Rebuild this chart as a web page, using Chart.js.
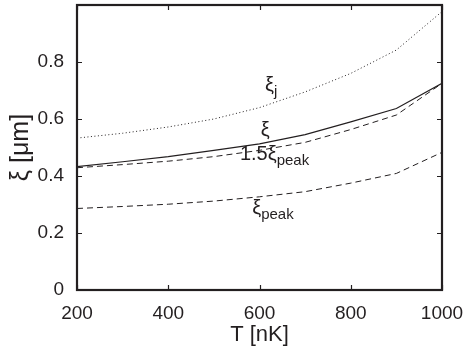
<!DOCTYPE html>
<html>
<head>
<meta charset="utf-8">
<script src="https://cdn.jsdelivr.net/npm/chart.js@4/dist/chart.umd.min.js"></script>
<style>
  body { margin: 0; background: #fff; }
  #wrap { width: 467px; height: 348px; }
</style>
</head>
<body>
<div id="wrap"><canvas id="xiChart"></canvas></div>
<script>
// temperatures in nK
const temps = [200, 300, 400, 500, 600, 700, 800, 900, 1000];
// correlation lengths in um
const xiJ = [0.533, 0.55, 0.572, 0.60, 0.64, 0.695, 0.76, 0.842, 0.977];
const xi = [0.433, 0.45, 0.468, 0.49, 0.513, 0.545, 0.59, 0.637, 0.725];
const xiPeak15 = [0.429, 0.44, 0.452, 0.468, 0.49, 0.518, 0.563, 0.614, 0.725];
const xiPeak = [0.286, 0.293, 0.301, 0.312, 0.327, 0.345, 0.375, 0.409, 0.483];

const xTicks = [200, 400, 600, 800, 1000];
const yTicks = [0, 0.2, 0.4, 0.6, 0.8];

// curve labels: [main, subscript, T, value]
const curveLabels = [
  ['\u03be', 'j', 612, 0.70],
  ['\u03be', '', 603, 0.54],
  ['1.5\u03be', 'peak', 557, 0.455],
  ['\u03be', 'peak', 584, 0.265]
];

const FONT = '"Liberation Sans", Arial, Helvetica, sans-serif';
const ink = '#231f20';

function toPoints(ys) {
  return temps.map((t, i) => ({ x: t, y: ys[i] }));
}

// box + inward tick marks + text labels on the curves
const framePlugin = {
  id: 'frame',
  afterDatasetsDraw(chart) {
    const ctx = chart.ctx;
    const a = chart.chartArea;
    const xs = chart.scales.x, ys = chart.scales.y;
    ctx.save();
    ctx.strokeStyle = ink;
    ctx.lineWidth = 1.2;
    ctx.beginPath();
    xTicks.forEach(t => {
      const px = Math.round(xs.getPixelForValue(t)) + 0.5;
      ctx.moveTo(px, a.bottom); ctx.lineTo(px, a.bottom - 5);
      ctx.moveTo(px, a.top); ctx.lineTo(px, a.top + 5);
    });
    yTicks.forEach(v => {
      const py = Math.round(ys.getPixelForValue(v)) + 0.5;
      ctx.moveTo(a.left, py); ctx.lineTo(a.left + 5, py);
      ctx.moveTo(a.right, py); ctx.lineTo(a.right - 5, py);
    });
    ctx.stroke();
    ctx.lineWidth = 2.2;
    ctx.strokeRect(a.left, a.top, a.right - a.left, a.bottom - a.top);

    ctx.fillStyle = ink;
    ctx.textBaseline = 'alphabetic';
    ctx.textAlign = 'left';
    curveLabels.forEach(([main, sub, t, v]) => {
      const px = xs.getPixelForValue(t);
      const py = ys.getPixelForValue(v);
      ctx.font = '20px ' + FONT;
      ctx.fillText(main, px, py);
      const w = ctx.measureText(main).width;
      if (sub) {
        ctx.font = '15px ' + FONT;
        ctx.fillText(sub, px + w, py + 5);
      }
    });
    ctx.restore();
  }
};

const lineStyle = (label, data, dash, width) => ({
  label: label,
  data: toPoints(data),
  borderColor: ink,
  borderWidth: width,
  borderDash: dash,
  pointRadius: 0,
  tension: 0,
  fill: false
});

new Chart(document.getElementById('xiChart').getContext('2d'), {
  type: 'line',
  data: {
    datasets: [
      lineStyle('xi_j', xiJ, [1, 2.5], 1),
      lineStyle('xi', xi, [], 1.2),
      lineStyle('1.5 xi_peak', xiPeak15, [6, 4], 1),
      lineStyle('xi_peak', xiPeak, [6, 4], 1)
    ]
  },
  options: {
    responsive: true,
    maintainAspectRatio: false,
    animation: false,
    layout: { padding: { top: 5, right: 25, left: 0, bottom: 0 } },
    plugins: { legend: { display: false }, tooltip: { enabled: false } },
    scales: {
      x: {
        type: 'linear',
        min: 200, max: 1000,
        grid: { display: false, drawTicks: false },
        border: { display: false },
        afterBuildTicks: s => { s.ticks = xTicks.map(v => ({ value: v })); },
        afterFit: s => { s.height = 58; s.paddingLeft = 0; s.paddingRight = 0; },
        ticks: { color: ink, padding: 12, font: { family: FONT, size: 19 },
                 callback: v => String(v) },
        title: { display: true, text: 'T [nK]', color: ink, padding: { top: 0, bottom: 0 },
                 font: { family: FONT, size: 22 } }
      },
      y: {
        type: 'linear',
        min: 0, max: 1,
        grid: { display: false, drawTicks: false },
        border: { display: false },
        afterBuildTicks: s => { s.ticks = yTicks.map(v => ({ value: v })); },
        afterFit: s => { s.width = 77; s.paddingTop = 0; s.paddingBottom = 0; },
        ticks: { color: ink, padding: 13, font: { family: FONT, size: 19 },
                 callback: v => String(v) },
        title: { display: true, text: '\u03be [\u03bcm]', color: ink, padding: { top: 6, bottom: 0 },
                 font: { family: FONT, size: 25 } }
      }
    }
  },
  plugins: [framePlugin]
});
</script>
</body>
</html>
